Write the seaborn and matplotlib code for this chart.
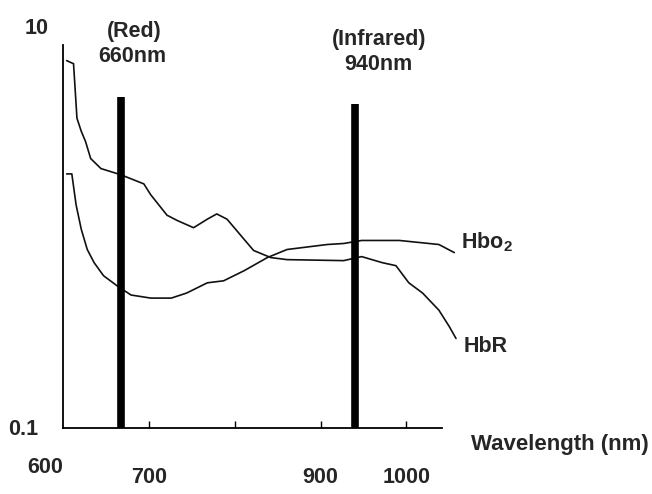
import numpy as np
import pandas as pd
import matplotlib
matplotlib.use("Agg")
import matplotlib.pyplot as plt
import seaborn as sns

# ---- data ----
hbr_nm = [604, 612, 616, 621, 626, 632, 644, 667, 694, 702, 721, 733, 752, 768, 779, 791,
          811, 822, 842, 861, 927, 948, 972, 988, 1003, 1019, 1038, 1050, 1058]
hbr_val = [8.28, 7.98, 4.14, 3.54, 3.13, 2.55, 2.26, 2.10, 1.88, 1.65, 1.29, 1.21, 1.11, 1.23, 1.31, 1.23,
           0.964, 0.844, 0.775, 0.756, 0.747, 0.784, 0.729, 0.703, 0.572, 0.506, 0.412, 0.339, 0.293]
hbo2_nm = [604, 610, 615, 621, 628, 636, 647, 663, 679, 702, 726, 744, 768, 787, 811,
           838, 861, 908, 927, 948, 992, 1038, 1056]
hbo2_val = [2.12, 2.12, 1.46, 1.09, 0.854, 0.729, 0.623, 0.551, 0.494, 0.476, 0.476, 0.506, 0.572, 0.586, 0.662,
            0.775, 0.854, 0.907, 0.918, 0.952, 0.952, 0.907, 0.823]
source_nm = [667, 940]
source_top = [5.35, 4.9]
source_names = ["(Red)", "(Infrared)"]
source_labels = ["660nm", "940nm"]
tick_pos = [700, 800, 900, 1000]
tick_labels = ["700", "", "900", "1000"]

df = pd.concat([
    pd.DataFrame({"nm": hbr_nm, "val": hbr_val, "series": "HbR"}),
    pd.DataFrame({"nm": hbo2_nm, "val": hbo2_val, "series": "Hbo2"}),
])

sns.set_style("white")
plt.rcParams["font.family"] = ["Liberation Sans", "DejaVu Sans"]
plt.rcParams["font.weight"] = "bold"
plt.rcParams["mathtext.fontset"] = "custom"
plt.rcParams["mathtext.rm"] = "Liberation Sans:bold"
plt.rcParams["mathtext.bf"] = "Liberation Sans:bold"

FS = 15.5

fig = plt.figure(figsize=(6.52, 4.94), dpi=100)
ax = fig.add_axes([0.097, 0.134, 0.605, 0.775])

sns.lineplot(data=df, x="nm", y="val", units="series", estimator=None, sort=False,
             color="#111111", linewidth=1.2, ax=ax, legend=False)

ax.set_yscale("log")
ax.set_ylim(0.1, 10)
ax.set_xlim(600, 1060)

for x, top in zip(source_nm, source_top):
    ax.vlines(x, 0.1, top, color="black", linewidth=5.5, zorder=3)

ax.text(683, 11.8, source_names[0], ha="center", va="center", fontsize=FS, fontweight="bold", clip_on=False)
ax.text(680, 8.7, source_labels[0], ha="center", va="center", fontsize=FS, fontweight="bold", clip_on=False)
ax.text(968, 10.7, source_names[1], ha="center", va="center", fontsize=FS, fontweight="bold", clip_on=False)
ax.text(967, 7.9, source_labels[1], ha="center", va="center", fontsize=FS, fontweight="bold", clip_on=False)

ax.text(1064, 0.93, r"Hbo$_\mathbf{2}$", ha="left", va="center", fontsize=FS, fontweight="bold")
ax.text(1067, 0.266, "HbR", ha="left", va="center", fontsize=FS, fontweight="bold")

ax.text(569, 12.2, "10", ha="center", va="center", fontsize=FS, fontweight="bold", clip_on=False)
ax.text(553, 0.098, "0.1", ha="center", va="center", fontsize=FS, fontweight="bold", clip_on=False)
fig.text(45 / 652, 1 - 467 / 494, "600", ha="center", va="center", fontsize=FS, fontweight="bold")
fig.text(0.722, 1 - 444 / 494, "Wavelength (nm)", ha="left", va="center", fontsize=16, fontweight="bold")

ax.set_xticks(tick_pos)
ax.set_xticklabels(tick_labels, fontsize=FS, fontweight="bold")
ax.set_yticks([])
ax.yaxis.set_minor_locator(matplotlib.ticker.NullLocator())
ax.tick_params(axis="x", direction="in", length=5, width=1, pad=28, color="black", bottom=True)
ax.set_xlabel("")
ax.set_ylabel("")

for s in ["top", "right"]:
    ax.spines[s].set_visible(False)
for s in ["left", "bottom"]:
    ax.spines[s].set_color("black")
    ax.spines[s].set_linewidth(1.3)
ax.spines["bottom"].set_bounds(600, 1042)

fig.savefig("out.png", dpi=100)
